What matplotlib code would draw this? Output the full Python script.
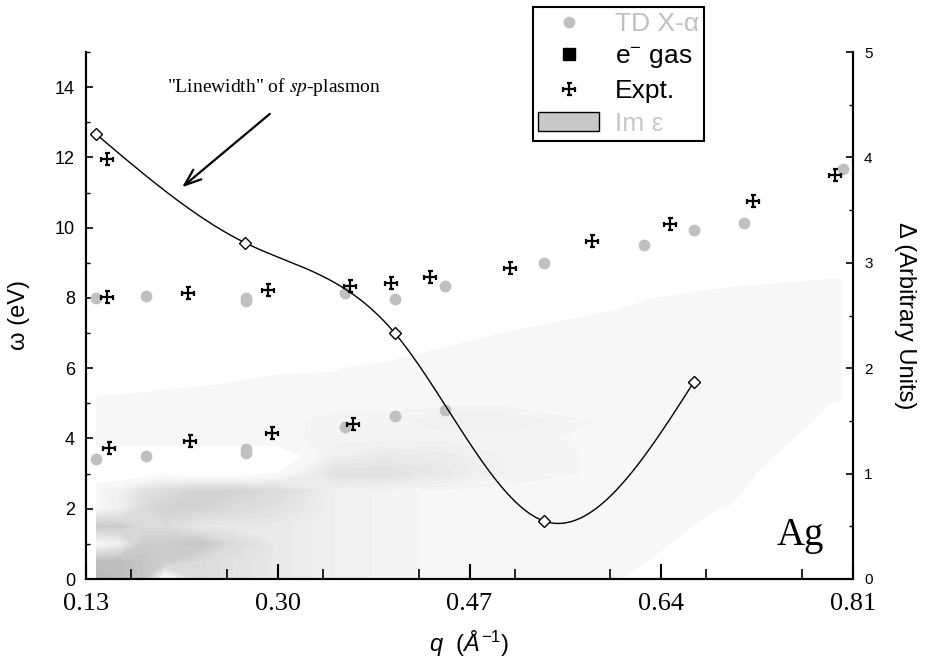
import numpy as np
import matplotlib
matplotlib.use("Agg")
import matplotlib.pyplot as plt
from matplotlib.path import Path
from matplotlib.lines import Line2D
from matplotlib.patches import Patch
from matplotlib.colors import LinearSegmentedColormap
from matplotlib.ticker import MultipleLocator, FixedLocator

plt.rcParams['font.family'] = ['Liberation Sans', 'DejaVu Sans']
plt.rcParams['mathtext.fontset'] = 'custom'
plt.rcParams['mathtext.rm'] = 'Liberation Sans'
plt.rcParams['mathtext.it'] = 'Liberation Sans:italic'

# TD X-alpha (gray dots), two branches
tdx_q = [0.139, 0.183, 0.272, 0.272, 0.360, 0.404, 0.448, 0.536, 0.625, 0.669, 0.713, 0.801,
         0.139, 0.183, 0.272, 0.272, 0.360, 0.404, 0.448]
tdx_w = [8.0, 8.05, 8.0, 7.9, 8.15, 7.97, 8.34, 9.0, 9.5, 9.93, 10.13, 11.67,
         3.42, 3.5, 3.6, 3.7, 4.33, 4.64, 4.81]

# experiment (crosses)
exp_q = [0.149, 0.149, 0.220, 0.291, 0.364, 0.400, 0.435, 0.506, 0.579, 0.648, 0.721, 0.794,
         0.150, 0.222, 0.295, 0.367]
exp_w = [11.96, 8.03, 8.14, 8.23, 8.34, 8.43, 8.6, 8.85, 9.62, 10.1, 10.76, 11.5,
         3.73, 3.93, 4.16, 4.41]

# linewidth of sp-plasmon (right axis)
lw_q = [0.139, 0.271, 0.404, 0.536, 0.669]
lw_d = [4.22, 3.19, 2.33, 0.55, 1.87]

# Im eps map
grid_q = [0.139, 0.16, 0.18, 0.20, 0.23, 0.26, 0.30, 0.35, 0.40, 0.45, 0.50, 0.60, 0.70, 0.80]
grid_w = [0, 0.5, 1, 1.5, 2, 2.5, 3, 3.5, 4, 4.5, 5, 6, 7, 8, 9]
im_eps = [
    [5.5, 5.0, 4.5, 0.0, 3.0, 2.5, 2.0, 1.5, 1.2, 1.0, 1.0, 0.55, -1, -1],
    [5.0, 5.0, 4.5, 4.0, 3.0, 2.5, 2.0, 1.5, 1.2, 1.0, 1.0, 1.0, -0.85, -1],
    [0.8, 1.5, 4.0, 4.0, 4.5, 3.0, 2.0, 1.5, 1.2, 1.0, 1.0, 1.0, -0.06, -1],
    [4.0, 4.0, 3.0, 3.0, 2.0, 2.0, 2.0, 1.5, 1.2, 1.0, 1.0, 1.0, 0.26, -1],
    [1.0, 1.5, 3.0, 3.5, 3.5, 3.0, 2.5, 1.5, 1.2, 1.0, 1.0, 1.0, 0.44, -1],
    [1.0, 1.5, 2.5, 3.0, 3.5, 3.5, 3.0, 1.5, 1.2, 1.0, 1.0, 1.0, 0.8, -1.5],
    [-0.2, -0.2, -0.2, 0.3, -0.2, -0.2, 0.5, 2.5, 2.5, 2.0, 1.3, 1.0, 1.0, -1.17],
    [-0.3, -0.3, -0.3, -0.3, -0.3, -0.3, -0.3, 1.5, 2.0, 1.8, 1.3, 1.0, 1.0, -0.25],
    [1.0, 1.0, 1.0, 1.0, 1.0, 1.0, 1.0, 1.2, 1.2, 1.2, 1.2, 1.0, 1.0, 0.12],
    [1.0, 1.0, 1.0, 1.0, 1.0, 1.0, 1.0, 1.2, 1.2, 1.5, 1.5, 1.0, 1.0, 0.32],
    [1.0, 1.0, 1.0, 1.0, 1.0, 1.0, 1.0, 1.0, 1.0, 1.0, 1.0, 1.0, 1.0, 0.44],
    [-1.5, -1, -0.67, -0.25, -0.1, 0.17, 0.375, 0.44, 0.75, 1, 1, 1, 1, 1],
    [-1, -1, -1, -1, -1, -1, -1, -1, -0.5, 0.17, 0.5, 1, 1, 1],
    [-1, -1, -1, -1, -1, -1, -1, -1, -1, -1, -1, 0.23, 1, 1],
    [-1, -1, -1, -1, -1, -1, -1, -1, -1, -1, -1, -1, -0.67, 0.09],
]

x_ticks = [0.13, 0.30, 0.47, 0.64, 0.81]


def natural_spline(x, y, n=300):
    x = np.asarray(x, float)
    y = np.asarray(y, float)
    k = len(x)
    h = np.diff(x)
    A = np.zeros((k, k))
    b = np.zeros(k)
    A[0, 0] = A[-1, -1] = 1
    for i in range(1, k - 1):
        A[i, i - 1] = h[i - 1]
        A[i, i] = 2 * (h[i - 1] + h[i])
        A[i, i + 1] = h[i]
        b[i] = 6 * ((y[i + 1] - y[i]) / h[i] - (y[i] - y[i - 1]) / h[i - 1])
    m = np.linalg.solve(A, b)
    xs = np.linspace(x[0], x[-1], n)
    idx = np.clip(np.searchsorted(x, xs) - 1, 0, k - 2)
    t0 = xs - x[idx]
    t1 = x[idx + 1] - xs
    hi = h[idx]
    ys = (m[idx] * t1 ** 3 + m[idx + 1] * t0 ** 3) / (6 * hi) \
        + (y[idx] / hi - m[idx] * hi / 6) * t1 + (y[idx + 1] / hi - m[idx + 1] * hi / 6) * t0
    return xs, ys


# cross with little bars at the ends
cross_marker = Path(
    [(-1, 0), (1, 0), (0, -1), (0, 1), (-1, -0.4), (-1, 0.4), (1, -0.4), (1, 0.4),
     (-0.4, 1), (0.4, 1), (-0.4, -1), (0.4, -1)],
    [Path.MOVETO, Path.LINETO] * 6)

fig = plt.figure(figsize=(9.3, 6.69), dpi=100)
ax = fig.add_axes([86 / 930, 90 / 669, 767 / 930, 527 / 669])
ax2 = ax.twinx()

grey_map = LinearSegmentedColormap.from_list('imeps', ['#f7f7f7', '#b0b0b0'])
ax.contourf(grid_q, grid_w, np.array(im_eps), levels=np.arange(0.5, 6.01, 0.2),
            cmap=grey_map, vmin=1, vmax=6, extend='max', zorder=0)

ax.plot(tdx_q, tdx_w, ls='', marker='o', ms=8.5, color='#c0c0c0', mec='none', zorder=3)
ax.plot(exp_q, exp_w, ls='', marker=cross_marker, ms=9, mew=1.6, color='black', zorder=4)

sx, sy = natural_spline(lw_q, lw_d)
ax2.plot(sx, sy, color='black', lw=1.0)
ax2.plot(lw_q, lw_d, ls='', marker='D', ms=6, mfc='white', mec='black', mew=1.0)

ax.set_xlim(0.13, 0.81)
ax.set_ylim(0, 15)
ax2.set_ylim(0, 5)

ax.xaxis.set_major_locator(FixedLocator(x_ticks))
ax.xaxis.set_minor_locator(MultipleLocator(0.085))
ax.set_xticklabels(['%.2f' % v for v in x_ticks], fontfamily='Liberation Serif', fontsize=19)
ax.set_yticks(range(0, 15, 2))
ax.yaxis.set_minor_locator(MultipleLocator(1))
ax2.yaxis.set_major_locator(MultipleLocator(1))
ax2.yaxis.set_minor_locator(MultipleLocator(0.5))

ax.tick_params(axis='x', which='major', direction='in', length=11, width=1.5, pad=10, top=False)
ax.tick_params(axis='x', which='minor', direction='in', length=7, width=1.2, top=False)
ax.tick_params(axis='y', which='major', direction='in', length=5, width=1.2, labelsize=13, pad=8)
ax.tick_params(axis='y', which='minor', direction='in', length=3, width=1.0)
ax2.tick_params(axis='y', which='major', direction='in', length=5, width=1.2, labelsize=11, pad=8)
ax2.tick_params(axis='y', which='minor', direction='in', length=3, width=1.0)

for a in (ax, ax2):
    a.spines['top'].set_visible(False)
    for s in ('left', 'right', 'bottom'):
        a.spines[s].set_linewidth(1.5)

ax.set_ylabel('ω (eV)', fontsize=17)
ax.yaxis.set_label_coords(-0.073, 0.5)
ax2.set_ylabel('Δ (Arbitrary Units)', fontsize=17, rotation=-90, va='center')
ax2.yaxis.set_label_coords(1.068, 0.5)
ax.set_xlabel(r'$q\ \ (Å^{-1})$', fontsize=17)
ax.xaxis.set_label_coords(0.5, -0.095)

ax2.annotate('', xy=(0.2133, 11.10 / 3), xytext=(0.2949, 13.29 / 3),
             arrowprops=dict(arrowstyle='->,head_length=1.2,head_width=0.45', lw=1.6, color='black'))
ax2.text(0.2018, 14.0 / 3, '"Linewidth" of $\\mathit{sp}$-plasmon', fontfamily='Liberation Serif',
         math_fontfamily='stix', fontsize=14, ha='left', va='center')
ax2.text(0.763, 1.25 / 3, 'Ag', fontfamily='Liberation Serif', fontsize=28, ha='center', va='center')

handles = [
    Line2D([], [], ls='', marker='o', ms=8.5, color='#c0c0c0', mec='none'),
    Line2D([], [], ls='', marker='s', ms=8, color='black'),
    Line2D([], [], ls='', marker=cross_marker, ms=9, mew=1.6, color='black'),
    Patch(facecolor='#c8c8c8', edgecolor='black', lw=1.0),
]
labels = ['TD X-α', 'e$^{-}$ gas', 'Expt.', 'Im ε']
leg = fig.legend(handles, labels, loc='upper left', bbox_to_anchor=(533 / 930, 1 - 7 / 669),
                 fontsize=19, frameon=True, fancybox=False, framealpha=1, edgecolor='black',
                 handlelength=2.3, handletextpad=0.6, borderpad=0.2, labelspacing=0.32,
                 borderaxespad=0)
leg.get_frame().set_linewidth(1.5)
for txt, col in zip(leg.get_texts(), ['#c0c0c0', 'black', 'black', '#c8c8c8']):
    txt.set_color(col)

fig.savefig('out.png', dpi=100)
